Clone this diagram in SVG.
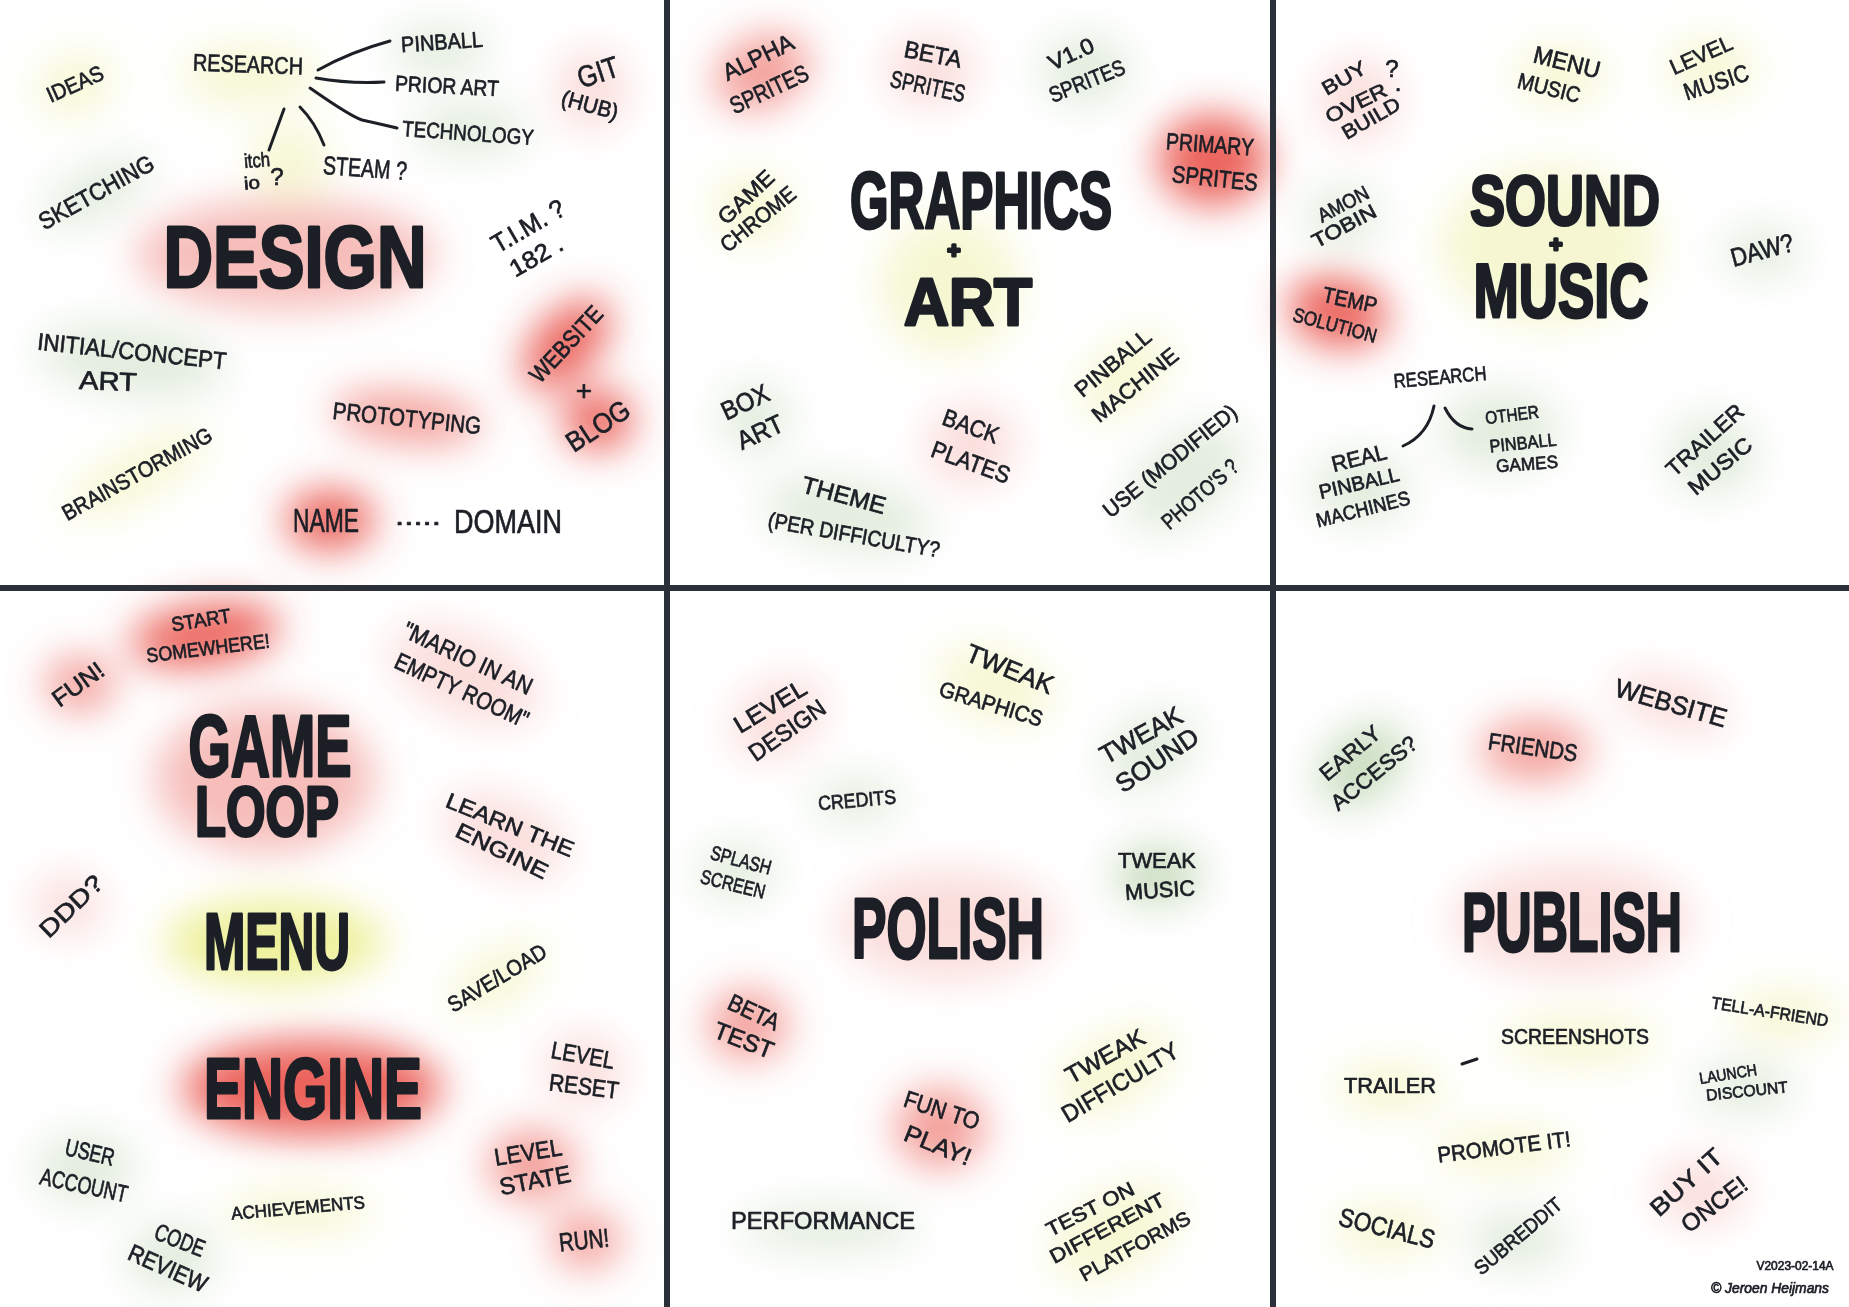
<svg xmlns="http://www.w3.org/2000/svg" width="1849" height="1307" viewBox="0 0 1849 1307">
<defs>
<filter id="blur" x="-20%" y="-20%" width="140%" height="140%"><feGaussianBlur stdDeviation="20"/></filter>
<style>
.t{font-family:"Liberation Sans",Arial,sans-serif;fill:#1c1f26;stroke:#1c1f26;stroke-width:.7;stroke-linejoin:round;text-anchor:middle;dominant-baseline:central}
.h{font-family:"Liberation Sans",Arial,sans-serif;font-weight:700;fill:#1c1f26;stroke:#1c1f26;stroke-width:3;stroke-linejoin:round;text-anchor:middle;dominant-baseline:central}
.c{fill:none;stroke:#1c1f26;stroke-width:3;stroke-linecap:round}
.div{fill:#2b3039}
.rs{fill:#e8473d;opacity:.85}
.rm{fill:#ec6a62;opacity:.65}
.rl{fill:#ee7d76;opacity:.5}
.pf{fill:#f2aaa4;opacity:.4}
.ym{fill:#e6ea6e;opacity:.7}
.yf{fill:#eef0a6;opacity:.5}
.gm{fill:#a8c898;opacity:.6}
.gf{fill:#c6dabb;opacity:.5}
</style>
</defs>
<rect width="1849" height="1307" fill="#ffffff"/>
<g id="glows" filter="url(#blur)">
<ellipse class="yf" cx="75" cy="85" rx="40" ry="30" transform="rotate(-24 75 85)"/>
<ellipse class="yf" cx="250" cy="75" rx="70" ry="30"/>
<ellipse class="yf" cx="290" cy="160" rx="40" ry="35"/>
<ellipse class="gf" cx="440" cy="50" rx="50" ry="25"/>
<ellipse class="gf" cx="470" cy="130" rx="60" ry="25"/>
<ellipse class="gf" cx="96" cy="192" rx="60" ry="25" transform="rotate(-29 96 192)"/>
<ellipse class="rl" cx="285" cy="255" rx="150" ry="55"/>
<ellipse class="pf" cx="592" cy="90" rx="35" ry="40"/>
<ellipse class="gf" cx="132" cy="360" rx="95" ry="35" transform="rotate(6 132 360)"/>
<ellipse class="rs" cx="566" cy="344" rx="30" ry="55" transform="rotate(43 566 344)"/>
<ellipse class="rs" cx="598" cy="420" rx="35" ry="30"/>
<ellipse class="rm" cx="407" cy="418" rx="75" ry="25" transform="rotate(6 407 418)"/>
<ellipse class="yf" cx="137" cy="474" rx="80" ry="25" transform="rotate(-29 137 474)"/>
<ellipse class="rs" cx="330" cy="520" rx="45" ry="30"/>
<ellipse class="rm" cx="762" cy="72" rx="50" ry="35" transform="rotate(-25 762 72)"/>
<ellipse class="pf" cx="930" cy="70" rx="45" ry="35"/>
<ellipse class="gf" cx="1085" cy="70" rx="45" ry="35"/>
<ellipse class="rs" cx="1213" cy="160" rx="55" ry="45"/>
<ellipse class="yf" cx="752" cy="208" rx="40" ry="35"/>
<ellipse class="yf" cx="950" cy="285" rx="70" ry="70"/>
<ellipse class="gf" cx="755" cy="418" rx="35" ry="35"/>
<ellipse class="yf" cx="1125" cy="375" rx="55" ry="30" transform="rotate(-40 1125 375)"/>
<ellipse class="pf" cx="971" cy="445" rx="45" ry="40"/>
<ellipse class="gf" cx="848" cy="515" rx="85" ry="35" transform="rotate(10 848 515)"/>
<ellipse class="gf" cx="1185" cy="478" rx="70" ry="40" transform="rotate(-40 1185 478)"/>
<ellipse class="pf" cx="1358" cy="100" rx="40" ry="40"/>
<ellipse class="yf" cx="1560" cy="75" rx="45" ry="30"/>
<ellipse class="yf" cx="1710" cy="68" rx="45" ry="30"/>
<ellipse class="yf" cx="1550" cy="245" rx="110" ry="80"/>
<ellipse class="gf" cx="1342" cy="217" rx="38" ry="30"/>
<ellipse class="gf" cx="1762" cy="252" rx="40" ry="25"/>
<ellipse class="rs" cx="1338" cy="312" rx="50" ry="35" transform="rotate(12 1338 312)"/>
<ellipse class="gf" cx="1500" cy="430" rx="60" ry="40"/>
<ellipse class="gf" cx="1360" cy="488" rx="50" ry="35"/>
<ellipse class="gf" cx="1712" cy="455" rx="45" ry="40"/>
<ellipse class="rs" cx="205" cy="635" rx="75" ry="30" transform="rotate(-8 205 635)"/>
<ellipse class="rm" cx="80" cy="684" rx="35" ry="28"/>
<ellipse class="pf" cx="465" cy="675" rx="80" ry="40" transform="rotate(24 465 675)"/>
<ellipse class="rl" cx="265" cy="778" rx="110" ry="75"/>
<ellipse class="pf" cx="505" cy="835" rx="65" ry="35" transform="rotate(22 505 835)"/>
<ellipse class="pf" cx="68" cy="905" rx="35" ry="30"/>
<ellipse class="ym" cx="275" cy="942" rx="110" ry="42"/>
<ellipse class="yf" cx="497" cy="978" rx="55" ry="25" transform="rotate(-31 497 978)"/>
<ellipse class="rs" cx="312" cy="1088" rx="130" ry="48"/>
<ellipse class="pf" cx="584" cy="1070" rx="40" ry="35"/>
<ellipse class="rm" cx="532" cy="1165" rx="45" ry="35"/>
<ellipse class="rm" cx="586" cy="1240" rx="35" ry="28"/>
<ellipse class="gf" cx="85" cy="1168" rx="50" ry="35"/>
<ellipse class="gf" cx="172" cy="1258" rx="45" ry="35"/>
<ellipse class="yf" cx="298" cy="1212" rx="75" ry="22"/>
<ellipse class="yf" cx="995" cy="685" rx="60" ry="35" transform="rotate(18 995 685)"/>
<ellipse class="pf" cx="778" cy="718" rx="50" ry="35" transform="rotate(-32 778 718)"/>
<ellipse class="gf" cx="1150" cy="750" rx="50" ry="35" transform="rotate(-30 1150 750)"/>
<ellipse class="gf" cx="857" cy="800" rx="45" ry="22"/>
<ellipse class="gf" cx="737" cy="872" rx="40" ry="28"/>
<ellipse class="gm" cx="1158" cy="875" rx="45" ry="30"/>
<ellipse class="pf" cx="948" cy="925" rx="110" ry="55"/>
<ellipse class="rm" cx="748" cy="1025" rx="40" ry="35"/>
<ellipse class="yf" cx="1115" cy="1070" rx="65" ry="35" transform="rotate(-30 1115 1070)"/>
<ellipse class="rm" cx="940" cy="1128" rx="45" ry="40"/>
<ellipse class="gf" cx="830" cy="1228" rx="90" ry="22"/>
<ellipse class="yf" cx="1115" cy="1232" rx="70" ry="40" transform="rotate(-28 1115 1232)"/>
<ellipse class="pf" cx="1671" cy="703" rx="60" ry="25" transform="rotate(16 1671 703)"/>
<ellipse class="rm" cx="1535" cy="750" rx="55" ry="30"/>
<ellipse class="gm" cx="1362" cy="765" rx="50" ry="35" transform="rotate(-40 1362 765)"/>
<ellipse class="pf" cx="1572" cy="920" rx="120" ry="55" opacity=".25"/>
<ellipse class="yf" cx="1580" cy="1040" rx="80" ry="25"/>
<ellipse class="yf" cx="1390" cy="1088" rx="55" ry="25"/>
<ellipse class="gf" cx="1745" cy="1088" rx="50" ry="25"/>
<ellipse class="yf" cx="1503" cy="1150" rx="70" ry="22"/>
<ellipse class="yf" cx="1387" cy="1230" rx="55" ry="25"/>
<ellipse class="gf" cx="1518" cy="1240" rx="50" ry="28"/>
<ellipse class="pf" cx="1700" cy="1192" rx="45" ry="32"/>
<ellipse class="yf" cx="1785" cy="1015" rx="55" ry="25"/>
</g>
<g id="dividers">
<rect class="div" x="664" y="0" width="6" height="1307"/>
<rect class="div" x="1270" y="0" width="6" height="1307"/>
<rect class="div" x="0" y="585" width="1849" height="6"/>
</g>
<g id="connectors">
<path class="c" d="M318,70 Q350,52 390,41"/>
<path class="c" d="M316,78 Q350,84 384,82"/>
<path class="c" d="M310,88 Q350,116 362,120 Q380,124 397,128"/>
<path class="c" d="M284,109 L269,150"/>
<path class="c" d="M300,107 Q315,122 324,145"/>
<path class="c" d="M1434,406 Q1428,435 1403,446"/>
<path class="c" d="M1445,408 Q1455,428 1472,429"/>
<path class="c" d="M1462,1064 L1477,1059"/>
</g>
<g id="design">
<text class="h" transform="translate(295,256)" font-size="88" textLength="263" lengthAdjust="spacingAndGlyphs">DESIGN</text>
</g>
<g id="research"><text class="t" transform="translate(248,64) rotate(2)" font-size="24" textLength="110" lengthAdjust="spacingAndGlyphs">RESEARCH</text></g>
<g id="pinball"><text class="t" transform="translate(442,42) rotate(-4)" font-size="22" textLength="82" lengthAdjust="spacingAndGlyphs">PINBALL</text></g>
<g id="prior-art"><text class="t" transform="translate(447,86) rotate(3)" font-size="22" textLength="104" lengthAdjust="spacingAndGlyphs">PRIOR ART</text></g>
<g id="technology"><text class="t" transform="translate(468,133) rotate(4)" font-size="22" textLength="132" lengthAdjust="spacingAndGlyphs">TECHNOLOGY</text></g>
<g id="itch-io">
<text class="t" transform="translate(257,160) rotate(-5)" font-size="20" textLength="26" lengthAdjust="spacingAndGlyphs">itch</text>
<text class="t" transform="translate(252,183) rotate(-5)" font-size="18" textLength="16" lengthAdjust="spacingAndGlyphs">io</text>
<text class="t" transform="translate(277,176)" font-size="24">?</text>
</g>
<g id="steam"><text class="t" transform="translate(365,168) rotate(4)" font-size="26" textLength="84" lengthAdjust="spacingAndGlyphs">STEAM ?</text></g>
<g id="ideas"><text class="t" transform="translate(75,84) rotate(-24)" font-size="22" textLength="60" lengthAdjust="spacingAndGlyphs">IDEAS</text></g>
<g id="git">
<text class="t" transform="translate(598,72) rotate(-18)" font-size="30" textLength="42" lengthAdjust="spacingAndGlyphs">GIT</text>
<text class="t" transform="translate(590,105) rotate(15)" font-size="22" textLength="58" lengthAdjust="spacingAndGlyphs">(HUB)</text>
</g>
<g id="sketching"><text class="t" transform="translate(96,192) rotate(-29)" font-size="24" textLength="128" lengthAdjust="spacingAndGlyphs">SKETCHING</text></g>
<g id="tim">
<text class="t" transform="translate(528,226) rotate(-30)" font-size="26" textLength="80" lengthAdjust="spacingAndGlyphs">T.I.M. ?</text>
<text class="t" transform="translate(536,256) rotate(-30)" font-size="24" textLength="58" lengthAdjust="spacingAndGlyphs">182 .</text>
</g>
<g id="initial-concept-art">
<text class="t" transform="translate(132,351) rotate(6)" font-size="24" textLength="190" lengthAdjust="spacingAndGlyphs">INITIAL/CONCEPT</text>
<text class="t" transform="translate(108,381) rotate(2)" font-size="26" textLength="58" lengthAdjust="spacingAndGlyphs">ART</text>
</g>
<g id="website-blog">
<text class="t" transform="translate(566,344) rotate(-47)" font-size="24" textLength="95" lengthAdjust="spacingAndGlyphs">WEBSITE</text>
<text class="t" transform="translate(584,390)" font-size="28">+</text>
<text class="t" transform="translate(598,426) rotate(-33)" font-size="28" textLength="70" lengthAdjust="spacingAndGlyphs">BLOG</text>
</g>
<g id="prototyping"><text class="t" transform="translate(407,418) rotate(6)" font-size="24" textLength="149" lengthAdjust="spacingAndGlyphs">PROTOTYPING</text></g>
<g id="brainstorming"><text class="t" transform="translate(137,474) rotate(-29)" font-size="22" textLength="168" lengthAdjust="spacingAndGlyphs">BRAINSTORMING</text></g>
<g id="name-domain">
<text class="t" transform="translate(326,520)" font-size="34" textLength="66" lengthAdjust="spacingAndGlyphs">NAME</text>
<text class="t" transform="translate(418,516)" font-size="26" textLength="46" lengthAdjust="spacingAndGlyphs">.....</text>
<text class="t" transform="translate(508,521)" font-size="34" textLength="108" lengthAdjust="spacingAndGlyphs">DOMAIN</text>
</g>

<g id="graphics-art">
<text class="h" transform="translate(981,200)" font-size="80" textLength="262" lengthAdjust="spacingAndGlyphs">GRAPHICS</text>
<text class="h" transform="translate(954,250)" font-size="22" stroke-width="2">+</text>
<text class="h" transform="translate(968,302)" font-size="66" textLength="128" lengthAdjust="spacingAndGlyphs">ART</text>
</g>
<g id="alpha-sprites">
<text class="t" transform="translate(758,57) rotate(-26)" font-size="24" textLength="76" lengthAdjust="spacingAndGlyphs">ALPHA</text>
<text class="t" transform="translate(769,89) rotate(-25)" font-size="24" textLength="84" lengthAdjust="spacingAndGlyphs">SPRITES</text>
</g>
<g id="beta-sprites">
<text class="t" transform="translate(933,54) rotate(11)" font-size="24" textLength="58" lengthAdjust="spacingAndGlyphs">BETA</text>
<text class="t" transform="translate(928,86) rotate(12)" font-size="24" textLength="76" lengthAdjust="spacingAndGlyphs">SPRITES</text>
</g>
<g id="v10-sprites">
<text class="t" transform="translate(1071,54) rotate(-25)" font-size="22" textLength="48" lengthAdjust="spacingAndGlyphs">V1.0</text>
<text class="t" transform="translate(1087,81) rotate(-22)" font-size="22" textLength="80" lengthAdjust="spacingAndGlyphs">SPRITES</text>
</g>
<g id="primary-sprites">
<text class="t" transform="translate(1210,144) rotate(4)" font-size="24" textLength="88" lengthAdjust="spacingAndGlyphs">PRIMARY</text>
<text class="t" transform="translate(1215,178) rotate(6)" font-size="24" textLength="86" lengthAdjust="spacingAndGlyphs">SPRITES</text>
</g>
<g id="game-chrome">
<text class="t" transform="translate(746,197) rotate(-43)" font-size="22" textLength="68" lengthAdjust="spacingAndGlyphs">GAME</text>
<text class="t" transform="translate(758,219) rotate(-39)" font-size="22" textLength="90" lengthAdjust="spacingAndGlyphs">CHROME</text>
</g>
<g id="pinball-machine">
<text class="t" transform="translate(1113,363) rotate(-40)" font-size="22" textLength="92" lengthAdjust="spacingAndGlyphs">PINBALL</text>
<text class="t" transform="translate(1135,385) rotate(-39)" font-size="22" textLength="104" lengthAdjust="spacingAndGlyphs">MACHINE</text>
</g>
<g id="box-art">
<text class="t" transform="translate(745,402) rotate(-25)" font-size="26" textLength="50" lengthAdjust="spacingAndGlyphs">BOX</text>
<text class="t" transform="translate(760,432) rotate(-25)" font-size="26" textLength="48" lengthAdjust="spacingAndGlyphs">ART</text>
</g>
<g id="back-plates">
<text class="t" transform="translate(971,426) rotate(20)" font-size="24" textLength="58" lengthAdjust="spacingAndGlyphs">BACK</text>
<text class="t" transform="translate(971,462) rotate(20)" font-size="24" textLength="82" lengthAdjust="spacingAndGlyphs">PLATES</text>
</g>
<g id="theme">
<text class="t" transform="translate(844,495) rotate(15)" font-size="24" textLength="86" lengthAdjust="spacingAndGlyphs">THEME</text>
<text class="t" transform="translate(854,535) rotate(10)" font-size="22" textLength="174" lengthAdjust="spacingAndGlyphs">(PER DIFFICULTY?</text>
</g>
<g id="use-photos">
<text class="t" transform="translate(1170,461) rotate(-39)" font-size="22" textLength="165" lengthAdjust="spacingAndGlyphs">USE (MODIFIED)</text>
<text class="t" transform="translate(1200,494) rotate(-41)" font-size="22" textLength="94" lengthAdjust="spacingAndGlyphs">PHOTO'S ?</text>
</g>

<g id="sound-music">
<text class="h" transform="translate(1565,200)" font-size="71" textLength="190" lengthAdjust="spacingAndGlyphs">SOUND</text>
<text class="h" transform="translate(1556,244)" font-size="22" stroke-width="2">+</text>
<text class="h" transform="translate(1561,290)" font-size="76" textLength="175" lengthAdjust="spacingAndGlyphs">MUSIC</text>
</g>
<g id="buy-over-build">
<text class="t" transform="translate(1344,78) rotate(-30)" font-size="20" textLength="48" lengthAdjust="spacingAndGlyphs">BUY</text>
<text class="t" transform="translate(1392,68)" font-size="24">?</text>
<text class="t" transform="translate(1356,103) rotate(-26)" font-size="20" textLength="66" lengthAdjust="spacingAndGlyphs">OVER</text>
<text class="t" transform="translate(1398,82)" font-size="24">.</text>
<text class="t" transform="translate(1371,118) rotate(-30)" font-size="20" textLength="64" lengthAdjust="spacingAndGlyphs">BUILD</text>
</g>
<g id="menu-music">
<text class="t" transform="translate(1567,62) rotate(14)" font-size="24" textLength="68" lengthAdjust="spacingAndGlyphs">MENU</text>
<text class="t" transform="translate(1549,88) rotate(14)" font-size="22" textLength="64" lengthAdjust="spacingAndGlyphs">MUSIC</text>
</g>
<g id="level-music">
<text class="t" transform="translate(1701,55) rotate(-24)" font-size="22" textLength="66" lengthAdjust="spacingAndGlyphs">LEVEL</text>
<text class="t" transform="translate(1716,82) rotate(-18)" font-size="24" textLength="67" lengthAdjust="spacingAndGlyphs">MUSIC</text>
</g>
<g id="amon-tobin">
<text class="t" transform="translate(1343,204) rotate(-28)" font-size="20" textLength="55" lengthAdjust="spacingAndGlyphs">AMON</text>
<text class="t" transform="translate(1344,226) rotate(-28)" font-size="20" textLength="70" lengthAdjust="spacingAndGlyphs">TOBIN</text>
</g>
<g id="daw"><text class="t" transform="translate(1762,250) rotate(-15)" font-size="26" textLength="64" lengthAdjust="spacingAndGlyphs">DAW?</text></g>
<g id="temp-solution">
<text class="t" transform="translate(1350,300) rotate(12)" font-size="22" textLength="55" lengthAdjust="spacingAndGlyphs">TEMP</text>
<text class="t" transform="translate(1335,325) rotate(15)" font-size="20" textLength="86" lengthAdjust="spacingAndGlyphs">SOLUTION</text>
</g>
<g id="research-sound"><text class="t" transform="translate(1440,377) rotate(-5)" font-size="20" textLength="93" lengthAdjust="spacingAndGlyphs">RESEARCH</text></g>
<g id="other-pinball-games">
<text class="t" transform="translate(1512,415) rotate(-7)" font-size="18" textLength="54" lengthAdjust="spacingAndGlyphs">OTHER</text>
<text class="t" transform="translate(1523,443) rotate(-6)" font-size="18" textLength="67" lengthAdjust="spacingAndGlyphs">PINBALL</text>
<text class="t" transform="translate(1527,464) rotate(-4)" font-size="18" textLength="62" lengthAdjust="spacingAndGlyphs">GAMES</text>
</g>
<g id="real-pinball-machines">
<text class="t" transform="translate(1359,458) rotate(-14)" font-size="22" textLength="56" lengthAdjust="spacingAndGlyphs">REAL</text>
<text class="t" transform="translate(1359,483) rotate(-13)" font-size="20" textLength="82" lengthAdjust="spacingAndGlyphs">PINBALL</text>
<text class="t" transform="translate(1363,509) rotate(-14)" font-size="20" textLength="96" lengthAdjust="spacingAndGlyphs">MACHINES</text>
</g>
<g id="trailer-music">
<text class="t" transform="translate(1705,440) rotate(-42)" font-size="22" textLength="96" lengthAdjust="spacingAndGlyphs">TRAILER</text>
<text class="t" transform="translate(1720,466) rotate(-40)" font-size="22" textLength="76" lengthAdjust="spacingAndGlyphs">MUSIC</text>
</g>

<g id="game-loop">
<text class="h" transform="translate(270,745)" font-size="88" textLength="163" lengthAdjust="spacingAndGlyphs">GAME</text>
<text class="h" transform="translate(267,812)" font-size="70" textLength="144" lengthAdjust="spacingAndGlyphs">LOOP</text>
</g>
<g id="menu"><text class="h" transform="translate(277,941)" font-size="80" textLength="146" lengthAdjust="spacingAndGlyphs">MENU</text></g>
<g id="engine"><text class="h" transform="translate(313,1088)" font-size="86" textLength="218" lengthAdjust="spacingAndGlyphs">ENGINE</text></g>
<g id="start-somewhere">
<text class="t" transform="translate(201,620) rotate(-9)" font-size="20" textLength="60" lengthAdjust="spacingAndGlyphs">START</text>
<text class="t" transform="translate(208,648) rotate(-7)" font-size="20" textLength="124" lengthAdjust="spacingAndGlyphs">SOMEWHERE!</text>
</g>
<g id="fun"><text class="t" transform="translate(78,684) rotate(-36)" font-size="24" textLength="58" lengthAdjust="spacingAndGlyphs">FUN!</text></g>
<g id="mario">
<text class="t" transform="translate(468,658) rotate(25)" font-size="24" textLength="140" lengthAdjust="spacingAndGlyphs">"MARIO IN AN</text>
<text class="t" transform="translate(462,690) rotate(25)" font-size="24" textLength="145" lengthAdjust="spacingAndGlyphs">EMPTY ROOM"</text>
</g>
<g id="learn-engine">
<text class="t" transform="translate(510,825) rotate(22)" font-size="22" textLength="136" lengthAdjust="spacingAndGlyphs">LEARN THE</text>
<text class="t" transform="translate(502,851) rotate(26)" font-size="22" textLength="100" lengthAdjust="spacingAndGlyphs">ENGINE</text>
</g>
<g id="ddd"><text class="t" transform="translate(71,906) rotate(-44)" font-size="24" textLength="78" lengthAdjust="spacingAndGlyphs">DDD?</text></g>
<g id="save-load"><text class="t" transform="translate(497,978) rotate(-31)" font-size="22" textLength="111" lengthAdjust="spacingAndGlyphs">SAVE/LOAD</text></g>
<g id="level-reset">
<text class="t" transform="translate(583,1055) rotate(10)" font-size="24" textLength="64" lengthAdjust="spacingAndGlyphs">LEVEL</text>
<text class="t" transform="translate(584,1086) rotate(7)" font-size="24" textLength="70" lengthAdjust="spacingAndGlyphs">RESET</text>
</g>
<g id="user-account">
<text class="t" transform="translate(90,1152) rotate(13)" font-size="24" textLength="50" lengthAdjust="spacingAndGlyphs">USER</text>
<text class="t" transform="translate(84,1185) rotate(12)" font-size="24" textLength="89" lengthAdjust="spacingAndGlyphs">ACCOUNT</text>
</g>
<g id="level-state">
<text class="t" transform="translate(528,1152) rotate(-9)" font-size="24" textLength="68" lengthAdjust="spacingAndGlyphs">LEVEL</text>
<text class="t" transform="translate(535,1180) rotate(-11)" font-size="24" textLength="72" lengthAdjust="spacingAndGlyphs">STATE</text>
</g>
<g id="achievements"><text class="t" transform="translate(298,1208) rotate(-5)" font-size="18" textLength="134" lengthAdjust="spacingAndGlyphs">ACHIEVEMENTS</text></g>
<g id="code-review">
<text class="t" transform="translate(180,1240) rotate(21)" font-size="24" textLength="52" lengthAdjust="spacingAndGlyphs">CODE</text>
<text class="t" transform="translate(168,1268) rotate(24)" font-size="24" textLength="84" lengthAdjust="spacingAndGlyphs">REVIEW</text>
</g>
<g id="run"><text class="t" transform="translate(584,1240) rotate(-6)" font-size="26" textLength="50" lengthAdjust="spacingAndGlyphs">RUN!</text></g>

<g id="polish"><text class="h" transform="translate(948,928)" font-size="86" textLength="192" lengthAdjust="spacingAndGlyphs">POLISH</text></g>
<g id="tweak-graphics">
<text class="t" transform="translate(1010,669) rotate(22)" font-size="26" textLength="92" lengthAdjust="spacingAndGlyphs">TWEAK</text>
<text class="t" transform="translate(991,704) rotate(17)" font-size="22" textLength="107" lengthAdjust="spacingAndGlyphs">GRAPHICS</text>
</g>
<g id="level-design">
<text class="t" transform="translate(770,706) rotate(-31)" font-size="24" textLength="80" lengthAdjust="spacingAndGlyphs">LEVEL</text>
<text class="t" transform="translate(787,730) rotate(-35)" font-size="24" textLength="88" lengthAdjust="spacingAndGlyphs">DESIGN</text>
</g>
<g id="tweak-sound">
<text class="t" transform="translate(1141,735) rotate(-29)" font-size="26" textLength="90" lengthAdjust="spacingAndGlyphs">TWEAK</text>
<text class="t" transform="translate(1157,760) rotate(-34)" font-size="26" textLength="94" lengthAdjust="spacingAndGlyphs">SOUND</text>
</g>
<g id="credits"><text class="t" transform="translate(857,800) rotate(-5)" font-size="20" textLength="78" lengthAdjust="spacingAndGlyphs">CREDITS</text></g>
<g id="splash-screen">
<text class="t" transform="translate(741,860) rotate(15)" font-size="20" textLength="62" lengthAdjust="spacingAndGlyphs">SPLASH</text>
<text class="t" transform="translate(733,884) rotate(14)" font-size="20" textLength="66" lengthAdjust="spacingAndGlyphs">SCREEN</text>
</g>
<g id="tweak-music">
<text class="t" transform="translate(1157,860)" font-size="22" textLength="78" lengthAdjust="spacingAndGlyphs">TWEAK</text>
<text class="t" transform="translate(1160,890) rotate(-4)" font-size="22" textLength="70" lengthAdjust="spacingAndGlyphs">MUSIC</text>
</g>
<g id="beta-test">
<text class="t" transform="translate(754,1012) rotate(25)" font-size="24" textLength="54" lengthAdjust="spacingAndGlyphs">BETA</text>
<text class="t" transform="translate(744,1040) rotate(21)" font-size="24" textLength="62" lengthAdjust="spacingAndGlyphs">TEST</text>
</g>
<g id="tweak-difficulty">
<text class="t" transform="translate(1105,1056) rotate(-29)" font-size="24" textLength="87" lengthAdjust="spacingAndGlyphs">TWEAK</text>
<text class="t" transform="translate(1120,1082) rotate(-31)" font-size="24" textLength="132" lengthAdjust="spacingAndGlyphs">DIFFICULTY</text>
</g>
<g id="fun-to-play">
<text class="t" transform="translate(942,1110) rotate(18)" font-size="24" textLength="78" lengthAdjust="spacingAndGlyphs">FUN TO</text>
<text class="t" transform="translate(938,1145) rotate(22)" font-size="24" textLength="70" lengthAdjust="spacingAndGlyphs">PLAY!</text>
</g>
<g id="performance"><text class="t" transform="translate(823,1220)" font-size="24" textLength="184" lengthAdjust="spacingAndGlyphs">PERFORMANCE</text></g>
<g id="test-platforms">
<text class="t" transform="translate(1090,1209) rotate(-27)" font-size="20" textLength="96" lengthAdjust="spacingAndGlyphs">TEST ON</text>
<text class="t" transform="translate(1107,1228) rotate(-28)" font-size="20" textLength="127" lengthAdjust="spacingAndGlyphs">DIFFERENT</text>
<text class="t" transform="translate(1135,1246) rotate(-29)" font-size="20" textLength="123" lengthAdjust="spacingAndGlyphs">PLATFORMS</text>
</g>

<g id="publish"><text class="h" transform="translate(1572,922)" font-size="84" textLength="220" lengthAdjust="spacingAndGlyphs">PUBLISH</text></g>
<g id="website-publish"><text class="t" transform="translate(1671,703) rotate(16)" font-size="26" textLength="115" lengthAdjust="spacingAndGlyphs">WEBSITE</text></g>
<g id="friends"><text class="t" transform="translate(1533,747) rotate(8)" font-size="24" textLength="90" lengthAdjust="spacingAndGlyphs">FRIENDS</text></g>
<g id="early-access">
<text class="t" transform="translate(1350,753) rotate(-40)" font-size="22" textLength="72" lengthAdjust="spacingAndGlyphs">EARLY</text>
<text class="t" transform="translate(1374,773) rotate(-39)" font-size="22" textLength="104" lengthAdjust="spacingAndGlyphs">ACCESS?</text>
</g>
<g id="tell-a-friend"><text class="t" transform="translate(1770,1012) rotate(9)" font-size="17" textLength="118" lengthAdjust="spacingAndGlyphs">TELL-A-FRIEND</text></g>
<g id="screenshots"><text class="t" transform="translate(1575,1036)" font-size="22" textLength="148" lengthAdjust="spacingAndGlyphs">SCREENSHOTS</text></g>
<g id="trailer"><text class="t" transform="translate(1390,1085)" font-size="22" textLength="92" lengthAdjust="spacingAndGlyphs">TRAILER</text></g>
<g id="launch-discount">
<text class="t" transform="translate(1728,1074) rotate(-9)" font-size="16" textLength="58" lengthAdjust="spacingAndGlyphs">LAUNCH</text>
<text class="t" transform="translate(1747,1091) rotate(-6)" font-size="16" textLength="82" lengthAdjust="spacingAndGlyphs">DISCOUNT</text>
</g>
<g id="promote"><text class="t" transform="translate(1504,1147) rotate(-7)" font-size="22" textLength="134" lengthAdjust="spacingAndGlyphs">PROMOTE IT!</text></g>
<g id="socials"><text class="t" transform="translate(1387,1228) rotate(14)" font-size="26" textLength="98" lengthAdjust="spacingAndGlyphs">SOCIALS</text></g>
<g id="subreddit"><text class="t" transform="translate(1518,1236) rotate(-40)" font-size="20" textLength="108" lengthAdjust="spacingAndGlyphs">SUBREDDIT</text></g>
<g id="buy-it-once">
<text class="t" transform="translate(1686,1182) rotate(-42)" font-size="24" textLength="88" lengthAdjust="spacingAndGlyphs">BUY IT</text>
<text class="t" transform="translate(1714,1204) rotate(-37)" font-size="24" textLength="76" lengthAdjust="spacingAndGlyphs">ONCE!</text>
</g>
<g id="credit">
<text class="t" transform="translate(1795,1266)" font-size="12" stroke-width=".3" textLength="77" lengthAdjust="spacingAndGlyphs">V2023-02-14A</text>
<text class="t" transform="translate(1770,1288)" font-size="14" stroke-width=".4" font-style="italic" textLength="118" lengthAdjust="spacingAndGlyphs">© Jeroen Heijmans</text>
</g>
</svg>
